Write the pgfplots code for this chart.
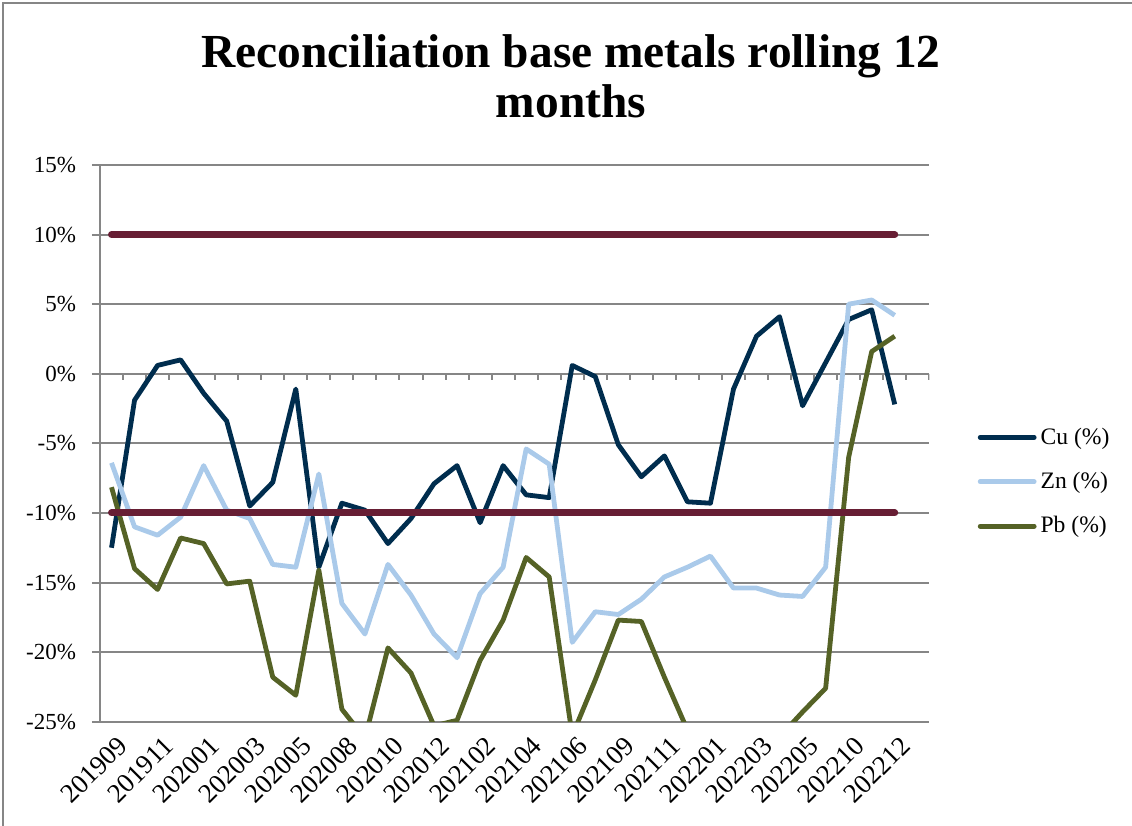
\documentclass[border=0pt]{standalone}
\usepackage{fontspec}
\setmainfont{Liberation Serif}
\usepackage{pgfplots}
\pgfplotsset{compat=1.18}
\definecolor{cu}{RGB}{0,45,78}
\definecolor{zn}{RGB}{170,202,234}
\definecolor{pb}{RGB}{85,98,38}
\definecolor{lim}{RGB}{103,30,52}
\definecolor{gridgray}{RGB}{134,134,134}
\begin{document}
\begin{tikzpicture}[x=1pt,y=1pt]
\useasboundingbox (0,0) rectangle (566,413);
\draw[gridgray, line width=1pt] (1.5,0) -- (1.5,411.5) -- (566,411.5);
\node[font=\fontsize{23.7}{25}\selectfont\bfseries, anchor=base] at (285.5,379) {Reconciliation base metals rolling 12};
\node[font=\fontsize{23.7}{25}\selectfont\bfseries, anchor=base] at (285.5,354) {months};
\begin{axis}[
  at={(50pt,52.15pt)}, anchor=south west,
  scale only axis, width=414.65pt, height=278.35pt,
  xmin=-0.5, xmax=35.5, ymin=-25, ymax=15,
  ytick={-25,-20,...,15},
  ymajorgrids, grid style={color=gridgray, line width=1pt},
  axis lines*=left,
  axis line style={color=gridgray, line width=1pt, -},
  xtick={0,2,...,34},
  xticklabels={201909,201911,202001,202003,202005,202008,202010,202012,202102,202104,202106,202109,202111,202201,202203,202205,202210,202212},
  x tick style={draw=none},
  y tick style={color=gridgray, line width=1pt},
  tick align=outside, major tick length=4pt,
  yticklabel={\pgfmathprintnumber{\tick}\%},
  /pgf/number format/assume math mode=true,
  yticklabel style={font=\fontsize{11.5}{13}\selectfont, xshift=-4.5pt},
  xticklabel style={font=\fontsize{13.5}{15}\selectfont, rotate=45, anchor=east, inner sep=1pt, yshift=-8pt, xshift=1pt},
  legend style={at={(1.058,0.431)}, anchor=west, draw=none, fill=none, inner sep=0pt,
    font=\fontsize{11.8}{13}\selectfont, row sep=8.5pt},
  legend cell align=left,
  legend image code/.code={\draw[#1, line cap=round] (0pt,0pt) -- (27pt,0pt);},
  line join=round,
]
\pgfplotsinvokeforeach{-0.5,0.5,...,35.5}{\draw[gridgray, line width=1pt] (axis cs:#1,0) -- ([yshift=-3pt]axis cs:#1,0);}
\addplot[cu, line width=2.4pt] coordinates {
(0,-12.5) (1,-1.9) (2,0.6) (3,1.0) (4,-1.4) (5,-3.4) (6,-9.5) (7,-7.8) (8,-1.1) (9,-13.9)
(10,-9.3) (11,-9.8) (12,-12.2) (13,-10.4) (14,-7.9) (15,-6.6) (16,-10.7) (17,-6.6) (18,-8.7) (19,-8.9)
(20,0.6) (21,-0.2) (22,-5.1) (23,-7.4) (24,-5.9) (25,-9.2) (26,-9.3) (27,-1.1) (28,2.7) (29,4.1)
(30,-2.3) (31,0.8) (32,3.9) (33,4.6) (34,-2.2)};
\addlegendentry{Cu (\%)}
\addplot[zn, line width=2.4pt] coordinates {
(0,-6.4) (1,-11.0) (2,-11.6) (3,-10.3) (4,-6.6) (5,-9.8) (6,-10.4) (7,-13.7) (8,-13.9) (9,-7.2)
(10,-16.5) (11,-18.7) (12,-13.7) (13,-15.9) (14,-18.7) (15,-20.4) (16,-15.8) (17,-13.9) (18,-5.4) (19,-6.5)
(20,-19.3) (21,-17.1) (22,-17.3) (23,-16.2) (24,-14.6) (25,-13.9) (26,-13.1) (27,-15.4) (28,-15.4) (29,-15.9)
(30,-16.0) (31,-13.9) (32,5.0) (33,5.3) (34,4.2)};
\addlegendentry{Zn (\%)}
\addplot[pb, line width=2.4pt] coordinates {
(0,-8.15) (1,-14.0) (2,-15.5) (3,-11.8) (4,-12.2) (5,-15.1) (6,-14.9) (7,-21.8) (8,-23.1) (9,-14.1)
(10,-24.1) (11,-26.2) (12,-19.7) (13,-21.5) (14,-25.3) (15,-24.9) (16,-20.6) (17,-17.7) (18,-13.2) (19,-14.6)
(20,-26.0) (21,-22.0) (22,-17.7) (23,-17.8) (24,-21.8) (25,-25.6) (26,-27.0) (27,-27.5) (28,-27.0) (29,-26.1)
(30,-24.3) (31,-22.6) (32,-6.0) (33,1.6) (34,2.7)};
\addlegendentry{Pb (\%)}
\addplot[lim, line width=3.5pt, line cap=round, forget plot] coordinates {(0,10) (34,10)};
\addplot[lim, line width=3.5pt, line cap=round, forget plot] coordinates {(0,-10) (34,-10)};
\end{axis}
\end{tikzpicture}
\end{document}
